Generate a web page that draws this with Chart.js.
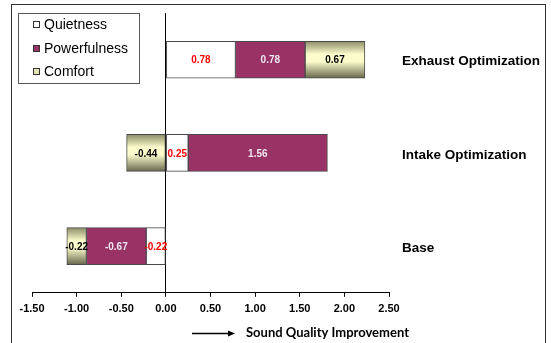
<!DOCTYPE html>
<html>
<head>
<meta charset="utf-8">
<script src="https://cdn.jsdelivr.net/npm/chart.js@4.4.1/dist/chart.umd.min.js"></script>
<style>
  html, body { margin: 0; padding: 0; background: #fff; }
  #wrap { position: relative; width: 551px; height: 343px; }
</style>
</head>
<body>
<div id="wrap"><canvas id="soundquality" width="551" height="343"></canvas></div>
<script>
// categories top to bottom
var categories = ['Exhaust Optimization', 'Intake Optimization', 'Base'];
var quietness = [0.78, 0.25, -0.22];
var powerfulness = [0.78, 1.56, -0.67];
var comfort = [0.67, -0.44, -0.22];
var xTicks = [-1.5, -1.0, -0.5, 0, 0.5, 1.0, 1.5, 2.0, 2.5];
var axisTitle = 'Sound Quality Improvement';

var BAR_H = 37;

// khaki gradient for the Comfort bars, per bar row
function comfortFill(c) {
  var chart = c.chart;
  var y = chart.scales.y;
  if (!chart.chartArea || y.getPixelForValue(c.dataIndex) == null) return '#e6e6b8';
  var yc = y.getPixelForValue(c.dataIndex);
  var g = chart.ctx.createLinearGradient(0, yc - BAR_H / 2, 0, yc + BAR_H / 2);
  g.addColorStop(0, '#8c8c68');
  g.addColorStop(0.35, '#fbfbcc');
  g.addColorStop(0.55, '#fbfbcc');
  g.addColorStop(1, '#66664c');
  return g;
}

// value labels in the middle of each segment
var valueLabels = {
  id: 'valueLabels',
  afterDatasetsDraw(chart) {
    var ctx = chart.ctx;
    ctx.save();
    ctx.font = 'bold 10px "Liberation Sans", Arial, sans-serif';
    ctx.textAlign = 'center';
    ctx.textBaseline = 'middle';
    chart.data.datasets.forEach(function(ds, i) {
      chart.getDatasetMeta(i).data.forEach(function(bar, j) {
        var p = bar.getCenterPoint();
        ctx.fillStyle = ds.labelColor;
        ctx.fillText(ds.data[j].toFixed(2), p.x, p.y + 1);
      });
    });
    ctx.restore();
  }
};

// frame, legend box and axis title with arrow
var decor = {
  id: 'decor',
  beforeDraw(chart) {
    var ctx = chart.ctx;
    ctx.save();
    ctx.fillStyle = '#fff';
    ctx.fillRect(0, 0, chart.width, chart.height);
    ctx.strokeStyle = '#333';
    ctx.lineWidth = 1;
    ctx.strokeRect(11.5, 4.5, 534, 360);
    ctx.restore();
  },
  afterDraw(chart) {
    var ctx = chart.ctx;
    ctx.save();
    // legend
    ctx.fillStyle = '#fff';
    ctx.fillRect(18, 13, 121, 70);
    ctx.strokeStyle = '#555';
    ctx.strokeRect(18.5, 13.5, 121, 70);
    ctx.font = '14px "Liberation Sans", Arial, sans-serif';
    ctx.textBaseline = 'middle';
    ctx.textAlign = 'left';
    var ys = [24, 48, 71];
    chart.data.datasets.forEach(function(ds, i) {
      ctx.fillStyle = ds.legendColor;
      ctx.fillRect(33, ys[i] - 3, 7, 7);
      ctx.strokeStyle = '#333';
      ctx.strokeRect(33.5, ys[i] - 2.5, 6, 6);
      ctx.fillStyle = '#000';
      ctx.fillText(ds.label, 44, ys[i] + 1);
    });
    // arrow and title
    ctx.strokeStyle = '#000';
    ctx.lineWidth = 1.5;
    ctx.beginPath();
    ctx.moveTo(192, 333.5);
    ctx.lineTo(230, 333.5);
    ctx.stroke();
    ctx.beginPath();
    ctx.moveTo(235, 333.5);
    ctx.lineTo(228, 330.5);
    ctx.lineTo(228, 336.5);
    ctx.closePath();
    ctx.fillStyle = '#000';
    ctx.fill();
    ctx.font = 'bold 13px Lato, "Liberation Sans", sans-serif';
    ctx.fillText(axisTitle, 246, 333);
    ctx.restore();
  }
};

new Chart('soundquality', {
  type: 'bar',
  data: {
    labels: categories,
    datasets: [
      {
        label: 'Quietness',
        data: quietness,
        backgroundColor: '#ffffff',
        legendColor: '#ffffff',
        labelColor: '#ff0000',
        borderColor: '#4a4a4a',
        borderWidth: 1,
        borderSkipped: false,
        barThickness: BAR_H
      },
      {
        label: 'Powerfulness',
        data: powerfulness,
        backgroundColor: '#993366',
        legendColor: '#993366',
        labelColor: '#eee6ee',
        borderColor: '#4a4a4a',
        borderWidth: 1,
        borderSkipped: false,
        barThickness: BAR_H
      },
      {
        label: 'Comfort',
        data: comfort,
        backgroundColor: comfortFill,
        legendColor: '#e4e4b4',
        labelColor: '#000000',
        borderColor: '#4a4a4a',
        borderWidth: 1,
        borderSkipped: false,
        barThickness: BAR_H
      }
    ]
  },
  options: {
    indexAxis: 'y',
    responsive: false,
    animation: false,
    layout: { padding: { left: 32, top: 11, bottom: 21, right: 0 } },
    plugins: {
      legend: { display: false },
      tooltip: { enabled: false }
    },
    scales: {
      x: {
        stacked: true,
        min: -1.5,
        max: 2.5,
        afterBuildTicks: function(scale) {
          scale.ticks = xTicks.map(function(v) { return { value: v }; });
        },
        border: { display: true, color: '#000', width: 1 },
        grid: {
          drawOnChartArea: true,
          color: function(c) { return c.tick && c.tick.value === 0 ? '#000' : 'rgba(0,0,0,0)'; },
          tickColor: '#000',
          tickLength: 4
        },
        ticks: {
          color: '#000',
          padding: 6,
          font: { family: '"Liberation Sans", Arial, sans-serif', size: 11, weight: 'bold' },
          callback: function(v) { return Number(v).toFixed(2); },
          maxRotation: 0
        }
      },
      y: {
        stacked: true,
        position: 'right',
        afterFit: function(scale) { scale.width = 162; },
        border: { display: false },
        grid: { display: false },
        ticks: {
          color: '#000',
          padding: 5,
          labelOffset: 2,
          crossAlign: 'near',
          font: { family: '"Liberation Sans", Arial, sans-serif', size: 13.5, weight: 'bold' }
        }
      }
    }
  },
  plugins: [decor, valueLabels]
});
</script>
</body>
</html>
